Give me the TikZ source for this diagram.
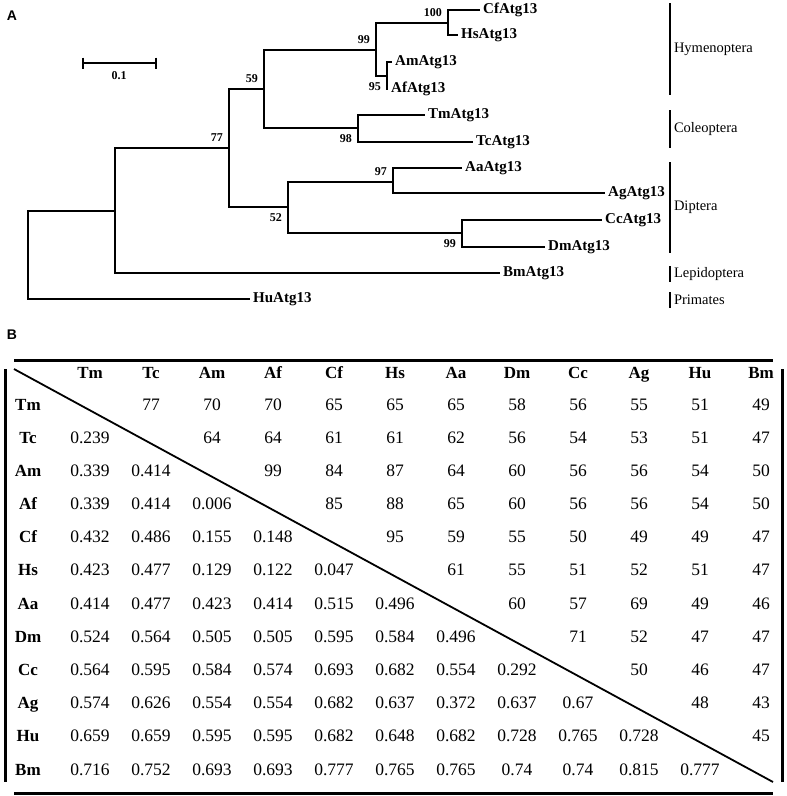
\documentclass[tikz,border=0pt]{standalone}
\usepackage{fontspec}
\setmainfont{Liberation Serif}
\newfontfamily\panelfont{Liberation Sans}
\usetikzlibrary{positioning}
\tikzstyle{branch} = [line width=2.2pt]
\tikzstyle{leaf} = [anchor=west, inner sep=3pt, font=\fontsize{15}{17}\selectfont\bfseries]
\tikzstyle{boot} = [inner sep=1pt, font=\fontsize{12}{14}\selectfont\bfseries]
\tikzstyle{clade} = [anchor=west, inner sep=3pt, font=\fontsize{14.5}{16}\selectfont]
\tikzstyle{bar} = [line width=2pt]
\tikzstyle{head} = [text height=11.5pt, text depth=0.5pt, font=\fontsize{17}{19}\selectfont\bfseries]
\tikzstyle{cell} = [font=\fontsize{17.5}{19}\selectfont]
\tikzstyle{rule} = [line width=3pt]
\tikzstyle{panel} = [font=\fontsize{14}{16}\selectfont\panelfont\bfseries]

\begin{document}
\begin{tikzpicture}[x=1pt, y=-1pt]
\useasboundingbox (0,0) rectangle (787,796);

% Panel letters
\node[panel] (pa) at (12,16) {A};
\node[panel] (pb) at (12,335) {B};

% Scale bar
\coordinate (sl) at (83,63);
\coordinate (sr) at (156,63);
\draw[bar] (sl) -- (sr);
\draw[bar] ([yshift=5.5pt]sl) -- ([yshift=-5.5pt]sl);
\draw[bar] ([yshift=5.5pt]sr) -- ([yshift=-5.5pt]sr);
\node[boot] (sc) at (119,76) {0.1};

% Internal nodes
\coordinate (r) at (28,255);
\coordinate (n1) at (115,211);
\coordinate (n2) at (229,148);
\coordinate (n3) at (264,89);
\coordinate (n4) at (376,50);
\coordinate (n4a) at (448,23);
\coordinate (n4b) at (387,76);
\coordinate (n5) at (358,128);
\coordinate (n6) at (288,207);
\coordinate (n7) at (393,182);
\coordinate (n8) at (462,233);

% Leaves
\node[leaf] (cf) at (480,10) {CfAtg13};
\node[leaf] (hs) at (458,35) {HsAtg13};
\node[leaf] (am) at (392,62) {AmAtg13};
\node[leaf] (af) at (388,89) {AfAtg13};
\node[leaf] (tm) at (425,115) {TmAtg13};
\node[leaf] (tc) at (473,142) {TcAtg13};
\node[leaf] (aa) at (462,168) {AaAtg13};
\node[leaf] (ag) at (605,193) {AgAtg13};
\node[leaf] (cc) at (602,220) {CcAtg13};
\node[leaf] (dm) at (545,247) {DmAtg13};
\node[leaf] (bm) at (500,273) {BmAtg13};
\node[leaf] (hu) at (250,299) {HuAtg13};

% Branches
\draw[branch] (r) |- (n1);
\draw[branch] (r) |- (hu.west);
\draw[branch] (n1) |- (n2);
\draw[branch] (n1) |- (bm.west);
\draw[branch] (n2) |- (n3);
\draw[branch] (n2) |- (n6);
\draw[branch] (n3) |- (n4);
\draw[branch] (n3) |- (n5);
\draw[branch] (n4) |- (n4a);
\draw[branch] (n4) |- (n4b);
\draw[branch] (n4a) |- (cf.west);
\draw[branch] (n4a) |- (hs.west);
\draw[branch] (n4b) |- (am.west);
\draw[branch] (n4b) |- (af.west);
\draw[branch] (n5) |- (tm.west);
\draw[branch] (n5) |- (tc.west);
\draw[branch] (n6) |- (n7);
\draw[branch] (n6) |- (n8);
\draw[branch] (n7) |- (aa.west);
\draw[branch] (n7) |- (ag.west);
\draw[branch] (n8) |- (cc.west);
\draw[branch] (n8) |- (dm.west);

% Bootstrap values
\node[boot, above left=5pt and 5pt of n2] (b2) {77};
\node[boot, above left=5pt and 5pt of n3] (b3) {59};
\node[boot, above left=5pt and 5pt of n4] (b4) {99};
\node[boot, above left=5pt and 5pt of n4a] (b4a) {100};
\node[boot, below left=5pt and 5pt of n4b] (b4b) {95};
\node[boot, below left=5pt and 5pt of n5] (b5) {98};
\node[boot, below left=5pt and 5pt of n6] (b6) {52};
\node[boot, above left=5pt and 5pt of n7] (b7) {97};
\node[boot, below left=5pt and 5pt of n8] (b8) {99};

% Clades
\draw[bar] (670,3) -- node[clade] (hym) {Hymenoptera} (670,95);
\draw[bar] (670,110) -- node[clade] (col) {Coleoptera} (670,148);
\draw[bar] (670,162) -- node[clade] (dip) {Diptera} (670,253);
\draw[bar] (670,266) -- node[clade] (lep) {Lepidoptera} (670,282);
\draw[bar] (670,292) -- node[clade] (pri) {Primates} (670,308);

% Table frame
\draw[rule] (14,360) -- (773,360);
\draw[rule] (14,793) -- (773,793);
\draw[rule] (5,369) -- (5,782);
\draw[rule] (782,369) -- (782,782);
\draw[line width=1.8pt] (14,369) -- (773,782);

% Header row and row names
\foreach \h [count=\j] in {Tm,Tc,Am,Af,Cf,Hs,Aa,Dm,Cc,Ag,Hu,Bm}
  \node[head] (h-\j) at ({29+61*\j},373) {\h};
\foreach \h/\y [count=\i] in {Tm/405,Tc/438,Am/471,Af/504,Cf/537,Hs/570,Aa/604,Dm/637,Cc/670,Ag/703,Hu/736,Bm/770}
  \node[head] (r-\i) at (28,\y) {\h};

% Values
\foreach \v [count=\j] in {{},77,70,70,65,65,65,58,56,55,51,49}
  \node[cell] (c1-\j) at ({29+61*\j},405) {\v};
\foreach \v [count=\j] in {0.239,{},64,64,61,61,62,56,54,53,51,47}
  \node[cell] (c2-\j) at ({29+61*\j},438) {\v};
\foreach \v [count=\j] in {0.339,0.414,{},99,84,87,64,60,56,56,54,50}
  \node[cell] (c3-\j) at ({29+61*\j},471) {\v};
\foreach \v [count=\j] in {0.339,0.414,0.006,{},85,88,65,60,56,56,54,50}
  \node[cell] (c4-\j) at ({29+61*\j},504) {\v};
\foreach \v [count=\j] in {0.432,0.486,0.155,0.148,{},95,59,55,50,49,49,47}
  \node[cell] (c5-\j) at ({29+61*\j},537) {\v};
\foreach \v [count=\j] in {0.423,0.477,0.129,0.122,0.047,{},61,55,51,52,51,47}
  \node[cell] (c6-\j) at ({29+61*\j},570) {\v};
\foreach \v [count=\j] in {0.414,0.477,0.423,0.414,0.515,0.496,{},60,57,69,49,46}
  \node[cell] (c7-\j) at ({29+61*\j},604) {\v};
\foreach \v [count=\j] in {0.524,0.564,0.505,0.505,0.595,0.584,0.496,{},71,52,47,47}
  \node[cell] (c8-\j) at ({29+61*\j},637) {\v};
\foreach \v [count=\j] in {0.564,0.595,0.584,0.574,0.693,0.682,0.554,0.292,{},50,46,47}
  \node[cell] (c9-\j) at ({29+61*\j},670) {\v};
\foreach \v [count=\j] in {0.574,0.626,0.554,0.554,0.682,0.637,0.372,0.637,0.67,{},48,43}
  \node[cell] (c10-\j) at ({29+61*\j},703) {\v};
\foreach \v [count=\j] in {0.659,0.659,0.595,0.595,0.682,0.648,0.682,0.728,0.765,0.728,{},45}
  \node[cell] (c11-\j) at ({29+61*\j},736) {\v};
\foreach \v [count=\j] in {0.716,0.752,0.693,0.693,0.777,0.765,0.765,0.74,0.74,0.815,0.777,{}}
  \node[cell] (c12-\j) at ({29+61*\j},770) {\v};

\end{tikzpicture}
\end{document}
